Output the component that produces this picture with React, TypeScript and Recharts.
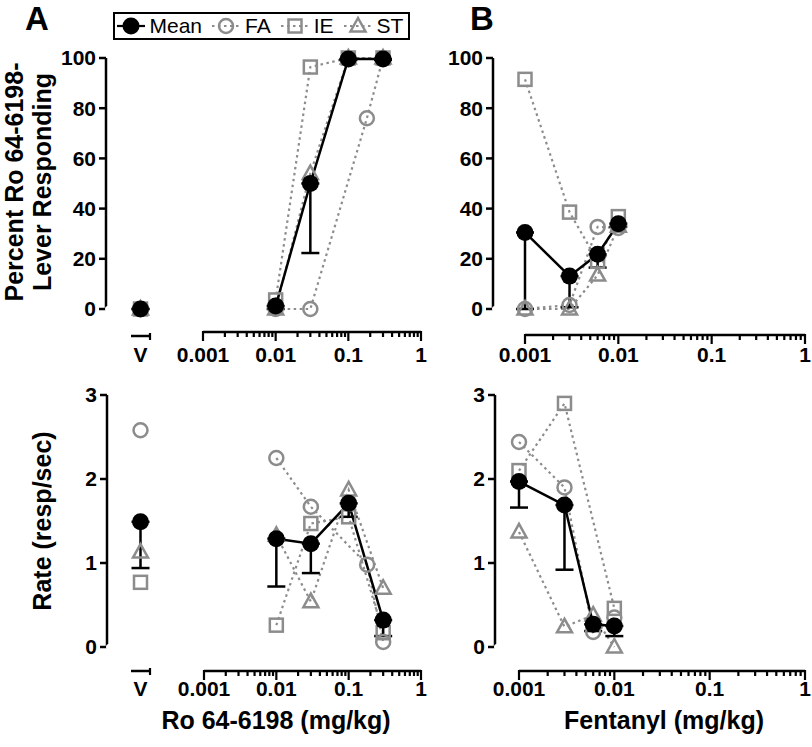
import React from "react";
import { ComposedChart, Line, XAxis, YAxis, ErrorBar } from "recharts";

const FONT = '"Liberation Sans", Arial, Helvetica, sans-serif';
const INK = "#000000";
const GRAY = "#8c8c8c";

// ---- axis ticks ----
const DECADES = [0.001, 0.01, 0.1, 1];
const PCT_TICKS = [0, 20, 40, 60, 80, 100];
const RATE_TICKS = [0, 1, 2, 3];
const VEH_LABEL = ["V"];

// ---- Ro 64-6198 (mg/kg) ----
const RO_DOSES = [0.01, 0.03, 0.1, 0.18, 0.3];
const RO_PCT_MEAN = [1.2, 50, 99.6, null, 99.6];
const RO_PCT_SEM = [1.2, 27.7, 0.4, null, 0.4];
const RO_PCT_FA = [0, 0, null, 76, 100];
const RO_PCT_IE = [3.6, 96.4, 100, null, 100];
const RO_PCT_ST = [0, 54, 100, null, 100];

const RO_RATE_MEAN = [1.29, 1.23, 1.71, null, 0.32];
const RO_RATE_SEM = [0.57, 0.35, 0.16, null, 0.19];
const RO_RATE_FA = [2.25, 1.67, null, 0.98, 0.06];
const RO_RATE_IE = [0.26, 1.47, 1.55, null, 0.17];
const RO_RATE_ST = [1.33, 0.54, 1.87, null, 0.7];

// ---- vehicle (order FA, IE, ST) ----
const VEH_PCT = [0, 0, 0];
const VEH_PCT_MEAN = 0;
const VEH_PCT_SEM = 0;
const VEH_RATE = [2.58, 0.77, 1.13];
const VEH_RATE_MEAN = 1.49;
const VEH_RATE_SEM = 0.55;

// ---- Fentanyl (mg/kg) ----
const FEN_DOSES = [0.001, 0.003, 0.006, 0.01];
const FEN_PCT_MEAN = [30.5, 13.1, 21.8, 34.0];
const FEN_PCT_SEM = [30.5, 12.4, 5.3, 1.2];
const FEN_PCT_FA = [0, 1.6, 32.7, 32.3];
const FEN_PCT_IE = [91.5, 38.6, 19, 36.8];
const FEN_PCT_ST = [0, 0, 13.5, 33];

const FEN_RATE_MEAN = [1.97, 1.69, 0.27, 0.25];
const FEN_RATE_SEM = [0.31, 0.77, 0.08, 0.12];
const FEN_RATE_FA = [2.44, 1.9, 0.18, 0.35];
const FEN_RATE_IE = [2.1, 2.9, null, 0.46];
const FEN_RATE_ST = [1.37, 0.24, 0.38, 0];

const SUBJECTS = [
  { key: "FA", shape: "circle" },
  { key: "IE", shape: "square" },
  { key: "ST", shape: "triangle" },
];

const LOG_TICKS = DECADES.slice(0, -1)
  .flatMap((d) => [1, 2, 3, 4, 5, 6, 7, 8, 9].map((k) => k * d))
  .concat([1]);

type Pt = { dose: number; v: number; err?: [number, number] };
type Set = { FA: Pt[]; IE: Pt[]; ST: Pt[]; mean: Pt[] };

const pts = (doses: number[], vals: (number | null)[]): Pt[] =>
  doses.flatMap((d, i) => (vals[i] == null ? [] : [{ dose: d, v: vals[i] as number }]));
const meanPts = (doses: number[], m: (number | null)[], s: (number | null)[]): Pt[] =>
  doses.flatMap((d, i) =>
    m[i] == null ? [] : [{ dose: d, v: m[i] as number, err: [(s[i] ?? 0) as number, 0] as [number, number] }]
  );

const RO_PCT: Set = {
  FA: pts(RO_DOSES, RO_PCT_FA),
  IE: pts(RO_DOSES, RO_PCT_IE),
  ST: pts(RO_DOSES, RO_PCT_ST),
  mean: meanPts(RO_DOSES, RO_PCT_MEAN, RO_PCT_SEM),
};
const RO_RATE: Set = {
  FA: pts(RO_DOSES, RO_RATE_FA),
  IE: pts(RO_DOSES, RO_RATE_IE),
  ST: pts(RO_DOSES, RO_RATE_ST),
  mean: meanPts(RO_DOSES, RO_RATE_MEAN, RO_RATE_SEM),
};
const FEN_PCT: Set = {
  FA: pts(FEN_DOSES, FEN_PCT_FA),
  IE: pts(FEN_DOSES, FEN_PCT_IE),
  ST: pts(FEN_DOSES, FEN_PCT_ST),
  mean: meanPts(FEN_DOSES, FEN_PCT_MEAN, FEN_PCT_SEM),
};
const FEN_RATE: Set = {
  FA: pts(FEN_DOSES, FEN_RATE_FA),
  IE: pts(FEN_DOSES, FEN_RATE_IE),
  ST: pts(FEN_DOSES, FEN_RATE_ST),
  mean: meanPts(FEN_DOSES, FEN_RATE_MEAN, FEN_RATE_SEM),
};

// ---- layout ----
type Row = { zeroPx: number; topPx: number; dom: [number, number]; ticks: number[] };
const PCT_ROW: Row = { zeroPx: 309, topPx: 58, dom: [0, 100], ticks: PCT_TICKS };
const RATE_ROW: Row = { zeroPx: 647, topPx: 395, dom: [0, 3], ticks: RATE_TICKS };

const M_TOP = 14;
const X_H = 44;
const CAP = 9; // ErrorBar width is half the cap length
const AXIS_LINE = { stroke: INK, strokeWidth: 2.5 };

// lower the y domain so the x axis sits below the zero line, like the original
function extDomain(row: Row, axisY: number): [number, number] {
  const per = (row.dom[1] - row.dom[0]) / (row.zeroPx - row.topPx);
  return [row.dom[0] - (axisY - row.zeroPx) * per, row.dom[1]];
}

function Marker({ cx, cy, shape }: { cx?: number; cy?: number; shape: string }) {
  if (cx == null || cy == null || isNaN(cx) || isNaN(cy)) return null;
  const open = { fill: "none", stroke: GRAY, strokeWidth: 2.5 };
  if (shape === "circle") return <circle cx={cx} cy={cy} r={7} {...open} />;
  if (shape === "square") return <rect x={cx - 6.5} y={cy - 6.5} width={13} height={13} {...open} />;
  if (shape === "triangle")
    return <polygon points={`${cx},${cy - 8} ${cx - 7.5},${cy + 5.5} ${cx + 7.5},${cy + 5.5}`} {...open} />;
  return <circle cx={cx} cy={cy} r={8.5} fill={INK} />;
}

const dotFor = (shape: string) => (p: any) =>
  <Marker key={`${shape}-${p.index}`} cx={p.cx} cy={p.cy} shape={shape} />;

function seriesLines(set: Set) {
  const out = SUBJECTS.map((s) => (
    <Line
      key={s.key}
      data={(set as any)[s.key]}
      dataKey="v"
      type="linear"
      stroke={GRAY}
      strokeWidth={2.2}
      strokeDasharray="2.5 3.5"
      dot={dotFor(s.shape)}
      activeDot={false}
      isAnimationActive={false}
    />
  ));
  out.push(
    <Line
      key="mean"
      data={set.mean}
      dataKey="v"
      type="linear"
      stroke={INK}
      strokeWidth={2.5}
      dot={dotFor("mean")}
      activeDot={false}
      isAnimationActive={false}
    >
      <ErrorBar dataKey="err" width={CAP} strokeWidth={2.5} stroke={INK} direction="y" />
    </Line>
  );
  return out;
}

const tickText = { fontSize: 21, fontWeight: "bold" as const, fontFamily: FONT, fill: INK };

function YAxisChart({ row, axisX }: { row: Row; axisX: number }) {
  const W = 70;
  const h = M_TOP * 2 + (row.zeroPx - row.topPx);
  return (
    <div style={{ position: "absolute", left: axisX - W, top: row.topPx - M_TOP }}>
      <ComposedChart
        width={W + 4}
        height={h}
        margin={{ top: M_TOP, right: 0, bottom: M_TOP, left: 0 }}
        data={[{ k: 0, v: row.dom[0] }]}
      >
        <XAxis dataKey="k" hide />
        <YAxis
          type="number"
          domain={row.dom}
          ticks={row.ticks}
          interval={0}
          width={W}
          tickSize={7}
          tickMargin={3}
          axisLine={AXIS_LINE}
          tickLine={AXIS_LINE}
          tick={tickText}
        />
        <Line dataKey="v" stroke="none" dot={false} activeDot={false} isAnimationActive={false} />
      </ComposedChart>
    </div>
  );
}

function LogChart({ row, x0, x1, axisY, labelDy, set }: {
  row: Row; x0: number; x1: number; axisY: number; labelDy: number; set: Set;
}) {
  const ML = 34;
  const MR = 16;
  const w = ML + (x1 - x0) + MR;
  const h = M_TOP + (axisY - row.topPx) + X_H;
  const LogTick = (p: any) => {
    const v = p.payload.value as number;
    const lg = Math.log10(v);
    const major = Math.abs(lg - Math.round(lg)) < 1e-6;
    return (
      <g>
        <line x1={p.x} x2={p.x} y1={p.y - 1} y2={p.y + (major ? 9 : 5)} stroke={INK} strokeWidth={2.2} />
        {major && (
          <text x={p.x} y={p.y + labelDy} textAnchor="middle" {...tickText}>
            {String(v)}
          </text>
        )}
      </g>
    );
  };
  return (
    <div style={{ position: "absolute", left: x0 - ML, top: row.topPx - M_TOP }}>
      <ComposedChart width={w} height={h} margin={{ top: M_TOP, right: MR, bottom: 0, left: ML }}>
        <XAxis
          dataKey="dose"
          type="number"
          scale="log"
          domain={[0.001, 1]}
          ticks={LOG_TICKS}
          interval={0}
          height={X_H}
          tickSize={0}
          tickMargin={0}
          tickLine={false}
          axisLine={AXIS_LINE}
          tick={LogTick}
        />
        <YAxis hide type="number" domain={extDomain(row, axisY)} />
        {seriesLines(set)}
      </ComposedChart>
    </div>
  );
}

function VehChart({ row, x0, x1, axisY, labelDy, vals, mean, sem }: {
  row: Row; x0: number; x1: number; axisY: number; labelDy: number;
  vals: number[]; mean: number; sem: number;
}) {
  const ML = 16;
  const MR = 16;
  const half = (x1 - x0) / 2;
  const w = ML + (x1 - x0) + MR;
  const h = M_TOP + (axisY - row.topPx) + X_H;
  const data = [{ dose: VEH_LABEL[0], FA: vals[0], IE: vals[1], ST: vals[2], mean, err: [sem, 0] }];
  const VehTick = (p: any) => (
    <g>
      <line x1={p.x + half} x2={p.x + half} y1={p.y - 3} y2={p.y + 4} stroke={INK} strokeWidth={2.2} />
      <text x={p.x} y={p.y + labelDy} textAnchor="middle" {...tickText}>
        {p.payload.value}
      </text>
    </g>
  );
  return (
    <div style={{ position: "absolute", left: x0 - ML, top: row.topPx - M_TOP }}>
      <ComposedChart width={w} height={h} margin={{ top: M_TOP, right: MR, bottom: 0, left: ML }} data={data}>
        <XAxis
          dataKey="dose"
          type="category"
          height={X_H}
          tickSize={0}
          tickMargin={0}
          tickLine={false}
          axisLine={AXIS_LINE}
          tick={VehTick}
          interval={0}
        />
        <YAxis hide type="number" domain={extDomain(row, axisY)} />
        {SUBJECTS.map((s) => (
          <Line key={s.key} dataKey={s.key} stroke={GRAY} dot={dotFor(s.shape)} activeDot={false} isAnimationActive={false} />
        ))}
        <Line dataKey="mean" stroke={INK} dot={dotFor("mean")} activeDot={false} isAnimationActive={false}>
          <ErrorBar dataKey="err" width={CAP} strokeWidth={2.5} stroke={INK} direction="y" />
        </Line>
      </ComposedChart>
    </div>
  );
}

function LegendBox() {
  const items = [{ key: "Mean", shape: "mean" }, ...SUBJECTS];
  return (
    <div
      style={{
        position: "absolute", left: 113, top: 12, width: 297, height: 28,
        border: "2.5px solid #000", boxSizing: "border-box",
        display: "flex", alignItems: "center", paddingLeft: 1.5,
        fontSize: 21, fontFamily: FONT, color: INK,
      }}
    >
      {items.map((it) => (
        <div key={it.key} style={{ display: "flex", alignItems: "center", marginRight: 10 }}>
          <svg width={28} height={24} style={{ display: "block" }}>
            <line
              x1={0} x2={28} y1={12} y2={12}
              stroke={it.shape === "mean" ? INK : GRAY}
              strokeWidth={2.2}
              strokeDasharray={it.shape === "mean" ? undefined : "2.5 3.5"}
            />
            <Marker cx={14} cy={12} shape={it.shape} />
          </svg>
          <span style={{ marginLeft: 5, lineHeight: "24px" }}>{it.key}</span>
        </div>
      ))}
    </div>
  );
}

const titleStyle: React.CSSProperties = {
  position: "absolute", fontSize: 25, fontWeight: "bold", fontFamily: FONT,
  whiteSpace: "nowrap", textAlign: "center", lineHeight: "28px", color: INK,
};

const letterStyle: React.CSSProperties = {
  position: "absolute", top: 0, fontSize: 33, fontWeight: "bold", lineHeight: "normal", color: INK,
};

export default function App() {
  return (
    <div style={{ position: "absolute", left: 0, top: 0, width: 812, height: 747, background: "#fff", fontFamily: FONT }}>
      <div style={{ ...letterStyle, left: 25 }}>A</div>
      <div style={{ ...letterStyle, left: 470 }}>B</div>

      <LegendBox />

      {/* panel A */}
      <YAxisChart row={PCT_ROW} axisX={106} />
      <VehChart row={PCT_ROW} x0={131} x1={150} axisY={336} labelDy={26}
        vals={VEH_PCT} mean={VEH_PCT_MEAN} sem={VEH_PCT_SEM} />
      <LogChart row={PCT_ROW} x0={203} x1={421} axisY={332} labelDy={30} set={RO_PCT} />

      <YAxisChart row={RATE_ROW} axisX={107} />
      <VehChart row={RATE_ROW} x0={131} x1={150} axisY={671} labelDy={25}
        vals={VEH_RATE} mean={VEH_RATE_MEAN} sem={VEH_RATE_SEM} />
      <LogChart row={RATE_ROW} x0={204} x1={421} axisY={671} labelDy={25} set={RO_RATE} />

      {/* panel B */}
      <YAxisChart row={PCT_ROW} axisX={493} />
      <LogChart row={PCT_ROW} x0={525} x1={805} axisY={335} labelDy={27} set={FEN_PCT} />

      <YAxisChart row={RATE_ROW} axisX={495} />
      <LogChart row={RATE_ROW} x0={519} x1={805} axisY={671} labelDy={25} set={FEN_RATE} />

      {/* axis titles */}
      <div style={{ ...titleStyle, left: 28, top: 182, transform: "translate(-50%, -50%) rotate(-90deg)" }}>
        Percent Ro 64-6198-
        <br />
        Lever Responding
      </div>
      <div style={{ ...titleStyle, left: 42, top: 521, transform: "translate(-50%, -50%) rotate(-90deg)" }}>
        Rate (resp/sec)
      </div>
      <div style={{ ...titleStyle, left: 276, top: 720, transform: "translate(-50%, -50%)" }}>
        Ro 64-6198 (mg/kg)
      </div>
      <div style={{ ...titleStyle, left: 664, top: 720, transform: "translate(-50%, -50%)" }}>
        Fentanyl (mg/kg)
      </div>
    </div>
  );
}
